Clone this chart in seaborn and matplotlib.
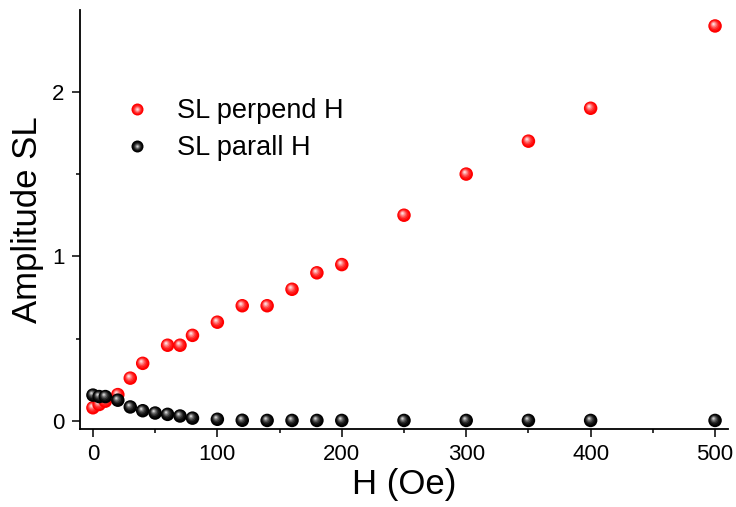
import numpy as np
import pandas as pd
import matplotlib
matplotlib.use("Agg")
import matplotlib.pyplot as plt
import matplotlib.transforms as mtransforms
from matplotlib.lines import Line2D
from matplotlib.legend_handler import HandlerTuple
from matplotlib.ticker import MultipleLocator
import seaborn as sns

# ---- data ----
h_perp = [0, 5, 10, 20, 30, 40, 60, 70, 80, 100, 120, 140, 160, 180, 200, 250, 300, 350, 400, 500]
amp_perp = [0.08, 0.10, 0.12, 0.16, 0.26, 0.35, 0.46, 0.46, 0.52, 0.60, 0.70, 0.70, 0.80, 0.90, 0.95,
            1.25, 1.50, 1.70, 1.90, 2.40]
h_par = [0, 5, 10, 20, 30, 40, 50, 60, 70, 80, 100, 120, 140, 160, 180, 200, 250, 300, 350, 400, 500]
amp_par = [0.157, 0.148, 0.148, 0.126, 0.085, 0.062, 0.048, 0.040, 0.030, 0.017, 0.010, 0.004, 0.003,
           0.003, 0.003, 0.003, 0.003, 0.003, 0.003, 0.003, 0.003]
series_names = ["SL perpend H", "SL parall H"]
x_label = "H (Oe)"
y_label = "Amplitude SL"

sns.set_style("ticks")
plt.rcParams['font.family'] = ['Liberation Sans', 'DejaVu Sans']
plt.rcParams['text.color'] = 'black'
plt.rcParams['axes.labelcolor'] = 'black'
plt.rcParams['xtick.color'] = 'black'
plt.rcParams['ytick.color'] = 'black'

fig = plt.figure(figsize=(7.36, 5.07), dpi=100)
ax = fig.add_axes([80 / 736, 78 / 507, 648 / 736, 419 / 507])

def blend(c, t):
    c = np.array(matplotlib.colors.to_rgb(c))
    return tuple(c + (1 - c) * t)

base_d = 13.5  # px
layers = [(1.00, 0.00, 0.0), (0.78, 0.10, 0.6), (0.60, 0.25, 1.0), (0.45, 0.45, 1.4),
          (0.30, 0.65, 1.7), (0.16, 0.85, 1.9)]
layers_black = [(1.00, 0.00, 0.0), (0.78, 0.06, 0.6), (0.60, 0.18, 1.0), (0.45, 0.35, 1.4),
                (0.30, 0.55, 1.7), (0.16, 0.80, 1.9)]

def balls(xs, ys, color, lay, z):
    df = pd.DataFrame({"x": xs, "y": ys})
    for i, row in df.iterrows():
        for k, (f, t, off) in enumerate(lay):
            d_pt = base_d * f * 72 / 100
            tr = mtransforms.offset_copy(ax.transData, fig=fig, x=-off * 0.8, y=off, units='dots')
            if k == 0:
                sns.scatterplot(x=[row.x], y=[row.y], ax=ax, s=d_pt ** 2, color=color,
                                edgecolor='none', linewidth=0, zorder=z + i * 0.01, legend=False)
            else:
                ax.scatter([row.x], [row.y], s=d_pt ** 2, color=blend(color, t), edgecolor='none',
                           linewidth=0, transform=tr, zorder=z + i * 0.01 + k * 0.001, clip_on=False)

balls(h_perp, amp_perp, "#ff0000", layers, 3)
balls(h_par, amp_par, "#000000", layers_black, 4)

ax.set_xlim(-10.4, 510.4)
ax.set_ylim(-0.049, 2.497)
ax.xaxis.set_major_locator(MultipleLocator(100))
ax.xaxis.set_minor_locator(MultipleLocator(50))
ax.yaxis.set_major_locator(MultipleLocator(1))
ax.yaxis.set_minor_locator(MultipleLocator(0.5))
ax.tick_params(which='major', direction='out', length=6, width=1.1, labelsize=16, pad=5,
               color='black', labelcolor='black')
ax.tick_params(which='minor', direction='out', length=3, width=1.1, color='black')
for s in ['top', 'right']:
    ax.spines[s].set_visible(False)
for s in ['left', 'bottom']:
    ax.spines[s].set_linewidth(1.3)
    ax.spines[s].set_color('black')

ax.set_xlabel(x_label, fontsize=25, labelpad=2, color='black')
ax.set_ylabel(y_label, fontsize=25, labelpad=6, color='black')

def leg_handle(color, lay):
    hs = []
    for f, t, off in lay:
        hs.append(Line2D([], [], linestyle='none', marker='o', markersize=12 * f * 72 / 100,
                         markerfacecolor=blend(color, t), markeredgewidth=0))
    return tuple(hs)

handles = [leg_handle("#ff0000", layers), leg_handle("#000000", layers_black)]
leg = ax.legend(handles, series_names, handler_map={tuple: HandlerTuple(ndivide=1, pad=0)},
                loc='upper left', bbox_to_anchor=(0.067, 0.79), frameon=False, fontsize=19.5,
                handlelength=1.0, handletextpad=0.98, labelspacing=0.42, borderpad=0,
                borderaxespad=0)
for t in leg.get_texts():
    t.set_color('black')

fig.savefig("out.png", dpi=100)
